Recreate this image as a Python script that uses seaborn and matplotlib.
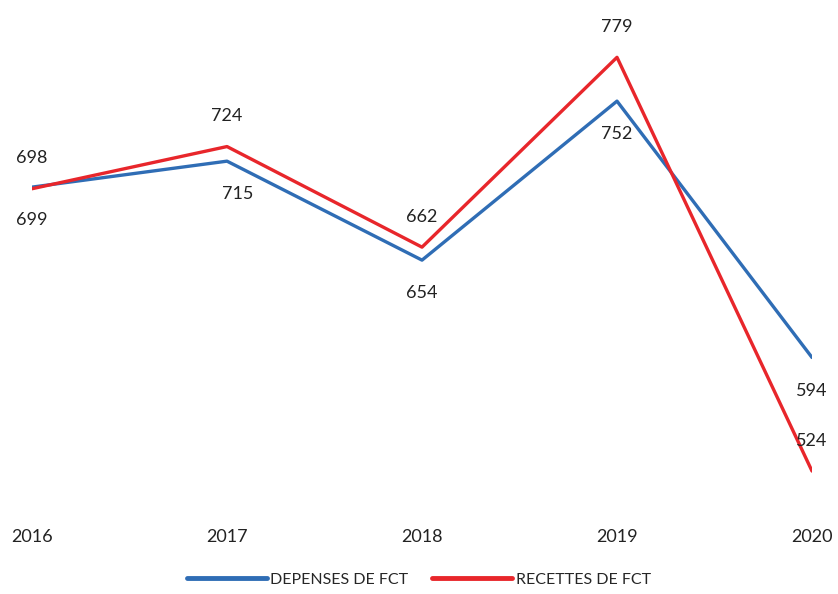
import matplotlib
matplotlib.use("Agg")
import matplotlib.pyplot as plt
import seaborn as sns
import pandas as pd

years = ["2016", "2017", "2018", "2019", "2020"]
depenses = [699, 715, 654, 752, 594]
recettes = [698, 724, 662, 779, 524]
series_names = ["DEPENSES DE FCT", "RECETTES DE FCT"]
colors = {"DEPENSES DE FCT": "#2F6DB5", "RECETTES DE FCT": "#E8262B"}

df = pd.DataFrame({
    "year": list(range(len(years))) * 2,
    "value": depenses + recettes,
    "serie": [series_names[0]] * len(years) + [series_names[1]] * len(years),
})

sns.set_theme(style="white")
plt.rcParams["font.family"] = ["Lato", "DejaVu Sans"]

fig = plt.figure(figsize=(8.38, 5.94), dpi=100)
ax = fig.add_axes([32 / 838, 1 - 510 / 594, 780 / 838, 490 / 594])

sns.lineplot(data=df, x="year", y="value", hue="serie", palette=colors,
             linewidth=2.4, ax=ax, legend=True)

ax.set_xlim(0, len(years) - 1)
ax.set_ylim(500, 802)
ax.set_xticks(range(len(years)))
ax.set_xticklabels(years, fontsize=13, color="#222222")
ax.tick_params(axis="x", length=0, pad=14)
ax.set_yticks([])
ax.set_xlabel("")
ax.set_ylabel("")
for s in ax.spines.values():
    s.set_visible(False)

# data labels: recettes above the line, depenses below
for i, v in enumerate(recettes):
    ax.annotate(str(v), (i, v), xytext=(0, 22), textcoords="offset points",
                ha="center", va="center", fontsize=13, color="#222222",
                annotation_clip=False)
for i, v in enumerate(depenses):
    dx = 8 if i == 1 else 0
    ax.annotate(str(v), (i, v), xytext=(dx, -24), textcoords="offset points",
                ha="center", va="center", fontsize=13, color="#222222",
                annotation_clip=False)

sns.move_legend(ax, "lower center", bbox_to_anchor=(0.5, -0.012),
                bbox_transform=fig.transFigure, ncol=2, frameon=False,
                title=None, fontsize=11.5, handlelength=5, columnspacing=1.5,
                handletextpad=0.2)
for line in ax.get_legend().get_lines():
    line.set_linewidth(3.5)

fig.savefig("out.png", dpi=100)
